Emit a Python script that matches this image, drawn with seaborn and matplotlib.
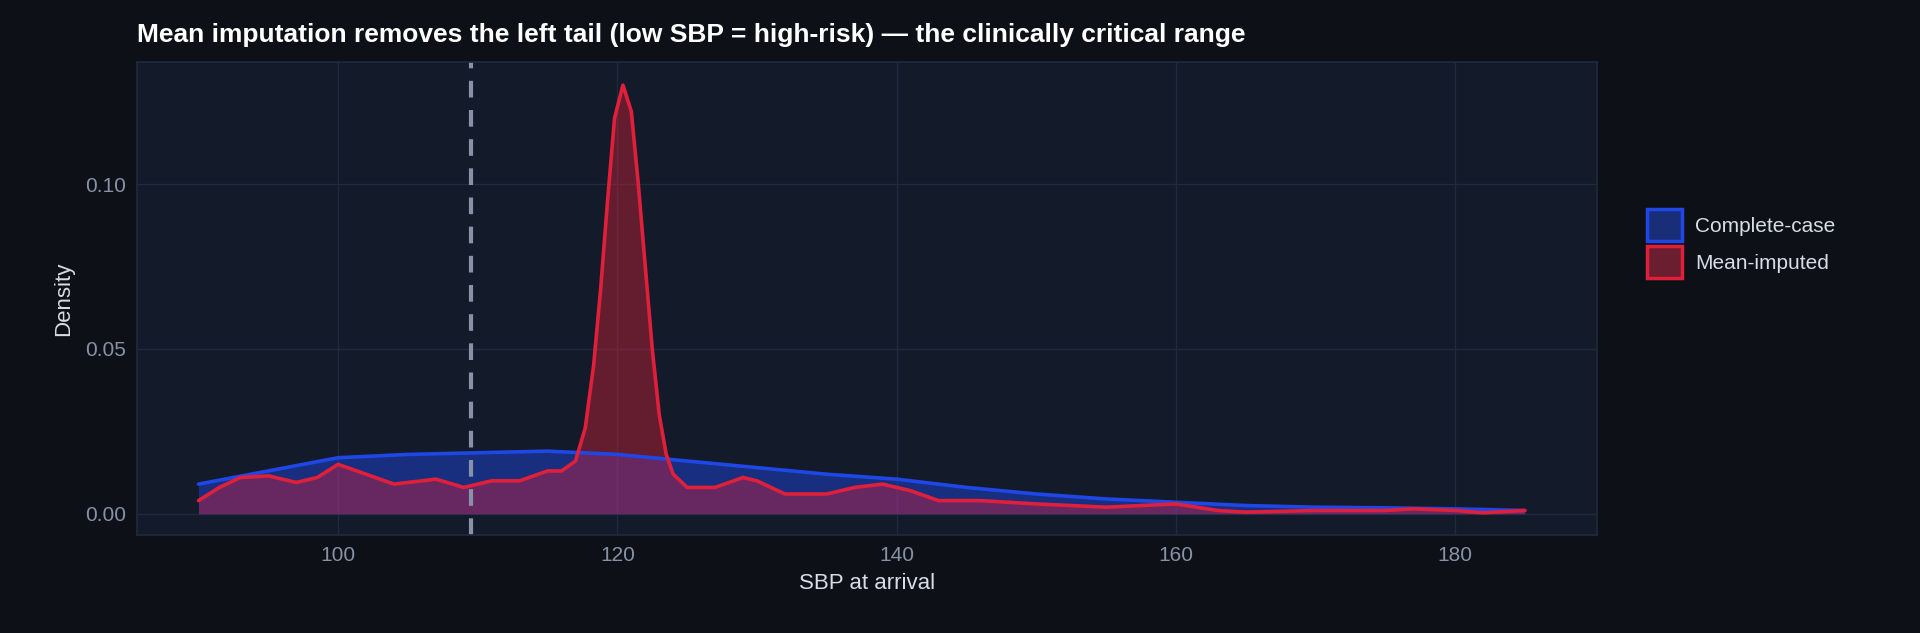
import numpy as np
import pandas as pd
import matplotlib.pyplot as plt
import seaborn as sns
from matplotlib.patches import Patch

# density curves
cc_x = [90, 95, 100, 105, 110, 115, 120, 125, 130, 135, 140, 145, 150, 155, 160, 165, 170, 175, 180, 185]
cc_y = [0.009, 0.013, 0.017, 0.018, 0.0185, 0.019, 0.018, 0.016, 0.014, 0.012, 0.0105, 0.008,
        0.006, 0.0045, 0.0035, 0.0025, 0.002, 0.0018, 0.0015, 0.001]

mi_x = [90, 91.5, 93, 95, 97, 98.5, 100, 102, 104, 106, 107, 109, 111, 113, 115, 116, 117, 117.7, 118.3,
        118.8, 119.3, 119.8, 120.4, 121, 121.5, 122, 122.5, 123, 123.5, 124, 125, 127, 129, 130, 132,
        135, 137, 139, 141, 143, 146, 150, 155, 160, 163, 165, 170, 175, 177, 180, 182, 185]
mi_y = [0.004, 0.008, 0.011, 0.0115, 0.0095, 0.011, 0.015, 0.012, 0.009, 0.010, 0.0105, 0.008,
        0.010, 0.010, 0.013, 0.013, 0.016, 0.026, 0.045, 0.068, 0.095, 0.12, 0.13, 0.122, 0.10,
        0.075, 0.05, 0.03, 0.018, 0.012, 0.008, 0.008, 0.011, 0.010, 0.006, 0.006, 0.008, 0.009,
        0.007, 0.004, 0.004, 0.003, 0.002, 0.003, 0.001, 0.0005, 0.001, 0.001, 0.0015, 0.001, 0.0003, 0.001]

threshold = 109.5

BG = '#0d1117'
PANEL = '#131a29'
GRID = '#1e2a40'
BLUE = '#1f47e6'
RED = '#e0203a'

sns.set_theme(style='dark')
plt.rcParams['font.family'] = ['Liberation Sans', 'DejaVu Sans']

fig = plt.figure(figsize=(19.2, 6.33), dpi=100, facecolor=BG)
ax = fig.add_axes([0.0714, 0.155, 0.7606, 0.747])
ax.set_facecolor(PANEL)

df_cc = pd.DataFrame({'x': cc_x, 'y': cc_y})
df_mi = pd.DataFrame({'x': mi_x, 'y': mi_y})

ax.fill_between(df_cc['x'], df_cc['y'], color=BLUE, alpha=0.45, lw=0)
ax.fill_between(df_mi['x'], df_mi['y'], color=RED, alpha=0.4, lw=0)
sns.lineplot(data=df_cc, x='x', y='y', color=BLUE, lw=2.6, ax=ax)
sns.lineplot(data=df_mi, x='x', y='y', color=RED, lw=2.6, ax=ax)
ax.axvline(threshold, color='#8891a8', lw=3, ls=(0, (4, 3)))

ax.set_xlim(85.6, 190.2)
ax.set_ylim(-0.0064, 0.137)
ax.set_xticks([100, 120, 140, 160, 180])
ax.set_yticks([0.0, 0.05, 0.10])
ax.set_yticklabels(['0.00', '0.05', '0.10'])
ax.grid(True, color=GRID, lw=1)
for s in ax.spines.values():
    s.set_color(GRID)
ax.tick_params(colors='#8891a8', labelsize=15, length=0, pad=8)
ax.set_xlabel('SBP at arrival', color='#d8dce6', fontsize=16, labelpad=6)
ax.set_ylabel('Density', color='#d8dce6', fontsize=16, labelpad=8)

fig.text(0.0714, 0.945, 'Mean imputation removes the left tail (low SBP = high-risk) \u2014 the clinically critical range',
         color='white', fontsize=19, fontweight='bold', ha='left', va='center')

handles = [Patch(facecolor='#1a2d78', edgecolor=BLUE, lw=2.5, label='Complete-case'),
           Patch(facecolor='#6b1e30', edgecolor=RED, lw=2.5, label='Mean-imputed')]
leg = fig.legend(handles=handles, loc='center left', bbox_to_anchor=(0.848, 0.615), frameon=False,
                 fontsize=15, handlelength=1.7, handleheight=2.0, labelspacing=0.25, handletextpad=0.6)
for t in leg.get_texts():
    t.set_color('#d8dce6')

fig.savefig('out.png', dpi=100, facecolor=BG)
